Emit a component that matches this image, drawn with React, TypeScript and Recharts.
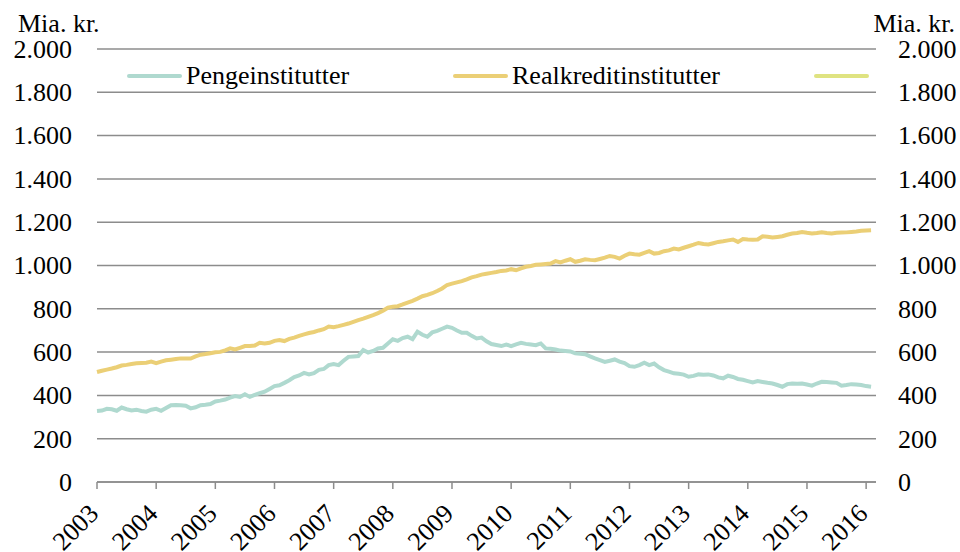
import { LineChart, Line, XAxis, YAxis, CartesianGrid, Legend } from 'recharts'

// Monthly observations, January 2003 – February 2016 (mia. kr.)
const yearLabels = ['2003', '2004', '2005', '2006', '2007', '2008', '2009', '2010', '2011', '2012', '2013', '2014', '2015', '2016']

const pengeinstitutter = [
  328, 330, 338, 336, 329, 344, 336, 330, 334, 328, 325, 334,
  338, 329, 342, 355, 356, 355, 352, 340, 345, 355, 357, 360,
  372, 376, 381, 390, 397, 393, 405, 393, 402, 410, 417, 430,
  443, 447, 458, 470, 485, 492, 504, 497, 503, 518, 522, 540,
  545, 540, 560, 578, 580, 582, 610, 598, 605, 617, 620, 640,
  659, 652, 665, 671, 660, 694, 680, 671, 691, 698, 708, 718,
  712, 700, 689, 689, 675, 663, 667, 650, 637, 633, 628, 635,
  628, 636, 643, 638, 635, 632, 640, 617, 615, 612, 607, 605,
  603, 594, 592, 590, 580, 571, 563, 555, 560, 566, 556, 549,
  535, 532, 540, 551, 540, 547, 530, 517, 510, 502, 500, 496,
  486, 490, 497, 495, 497, 492, 483, 479, 491, 485, 476, 472,
  466, 460, 466, 462, 458, 455, 448, 440, 452, 455, 454, 455,
  450, 445, 455, 463, 462, 460, 458, 445, 448, 452, 450, 448,
  443, 440,
]

const realkreditinstitutter = [
  508, 514, 519, 524, 530, 538, 541, 545, 548, 550, 551, 556,
  549, 556, 562, 565, 568, 571, 571, 570, 580, 588, 591, 595,
  599, 601, 608, 617, 612, 620, 628, 628, 630, 643, 640, 643,
  652, 656, 651, 661, 667, 675, 682, 688, 693, 700, 706, 718,
  715, 720, 726, 732, 740, 748, 755, 763, 771, 780, 791, 805,
  810, 812, 820, 829, 837, 847, 858, 864, 872, 882, 894, 910,
  916, 922, 928, 936, 945, 951, 958, 962, 966, 970, 975, 977,
  983, 978, 987, 994, 998, 1003, 1005, 1007, 1009, 1020, 1014, 1022,
  1029, 1017, 1022, 1029, 1026, 1024, 1030, 1036, 1044, 1040, 1032, 1045,
  1055, 1052, 1050, 1058, 1066, 1055, 1058, 1066, 1070, 1078, 1074, 1082,
  1089, 1096, 1104, 1099, 1097, 1103, 1109, 1112, 1116, 1120, 1109, 1122,
  1120, 1119, 1120, 1135, 1133, 1129, 1132, 1135, 1142, 1148, 1150, 1155,
  1151, 1148, 1150, 1154, 1150, 1148, 1151, 1152, 1153, 1155, 1157, 1160,
  1162, 1163,
]

const yTicks = [0, 200, 400, 600, 800, 1000, 1200, 1400, 1600, 1800, 2000]

const seriesNames = ['Pengeinstitutter', 'Realkreditinstitutter', '']
const seriesColors = ['#afd9cf', '#ebcf76', '#dfe381']

const data = pengeinstitutter.map((v, i) => ({
  m: i,
  penge: v,
  realkredit: realkreditinstitutter[i],
}))

const FONT = '"Liberation Serif", "Times New Roman", Times, serif'
const GRID = '#8c8c8c'

const formatDK = (v: number) =>
  v >= 1000 ? `${Math.floor(v / 1000)}.${String(v % 1000).padStart(3, '0')}` : String(v)

const YearTick = (props: any) => {
  const { x, y, payload } = props
  const px = x + 3
  const py = y + 24
  return (
    <text
      x={px}
      y={py}
      textAnchor="end"
      transform={`rotate(-45 ${px} ${py})`}
      style={{ fontFamily: FONT, fontSize: 26 }}
      fill="#000"
    >
      {yearLabels[payload.value / 12]}
    </text>
  )
}

const ValueTick = (props: any) => {
  const { x, y, payload, side } = props
  return (
    <text
      x={x}
      y={y}
      dy="0.34em"
      textAnchor={side === 'left' ? 'end' : 'start'}
      style={{ fontFamily: FONT, fontSize: 26 }}
      fill="#000"
    >
      {formatDK(payload.value)}
    </text>
  )
}

const legendLeft = [127, 453, 814]

const CustomLegend = () => (
  <div style={{ position: 'relative', width: 960, height: 30, fontFamily: FONT, fontSize: 26 }}>
    {seriesNames.map((name, i) => (
      <div
        key={i}
        style={{
          position: 'absolute',
          left: legendLeft[i],
          top: 0,
          height: 30,
          display: 'flex',
          alignItems: 'center',
          whiteSpace: 'nowrap',
          color: '#000',
        }}
      >
        <span
          style={{
            display: 'inline-block',
            width: 55,
            height: 4,
            borderRadius: 2,
            background: seriesColors[i],
            marginRight: 4,
          }}
        />
        {name}
      </div>
    ))}
  </div>
)

export default function App() {
  return (
    <div style={{ position: 'absolute', left: 0, top: 0, width: 960, height: 552, background: '#fff', fontFamily: FONT }}>
      <div style={{ position: 'absolute', left: 18, top: 13, fontSize: 26, lineHeight: '22px' }}>
        Mia. kr.
      </div>
      <div style={{ position: 'absolute', right: 5, top: 13, fontSize: 26, lineHeight: '22px' }}>
        Mia. kr.
      </div>
      <LineChart
        width={960}
        height={552}
        data={data}
        margin={{ top: 49, right: 0, bottom: 0, left: 0 }}
        style={{ fontFamily: FONT }}
      >
        <CartesianGrid yAxisId="left" vertical={false} stroke={GRID} strokeWidth={1.5} />
        <XAxis
          dataKey="m"
          type="number"
          domain={[0, 158]}
          ticks={yearLabels.map((_, i) => i * 12)}
          interval={0}
          stroke={GRID}
          axisLine={{ stroke: GRID, strokeWidth: 1.5 }}
          tickLine={{ stroke: GRID, strokeWidth: 1.5 }}
          tickSize={7}
          tick={<YearTick />}
          height={70}
        />
        <YAxis
          yAxisId="left"
          orientation="left"
          domain={[0, 2000]}
          ticks={yTicks}
          interval={0}
          width={97}
          axisLine={false}
          tickLine={false}
          tickSize={0}
          tickMargin={25}
          tick={<ValueTick side="left" />}
        />
        <YAxis
          yAxisId="right"
          orientation="right"
          domain={[0, 2000]}
          ticks={yTicks}
          interval={0}
          width={84}
          axisLine={false}
          tickLine={false}
          tickSize={0}
          tickMargin={22}
          tick={<ValueTick side="right" />}
        />
        <Legend
          layout="horizontal"
          verticalAlign="middle"
          align="center"
          wrapperStyle={{ position: 'absolute', top: 61, left: 0, width: 960 }}
          content={<CustomLegend />}
        />
        <Line
          yAxisId="left"
          type="linear"
          dataKey="penge"
          name={seriesNames[0]}
          stroke={seriesColors[0]}
          strokeWidth={4}
          dot={false}
          isAnimationActive={false}
        />
        <Line
          yAxisId="right"
          type="linear"
          dataKey="realkredit"
          name={seriesNames[1]}
          stroke={seriesColors[1]}
          strokeWidth={4}
          dot={false}
          isAnimationActive={false}
        />
      </LineChart>
    </div>
  )
}
